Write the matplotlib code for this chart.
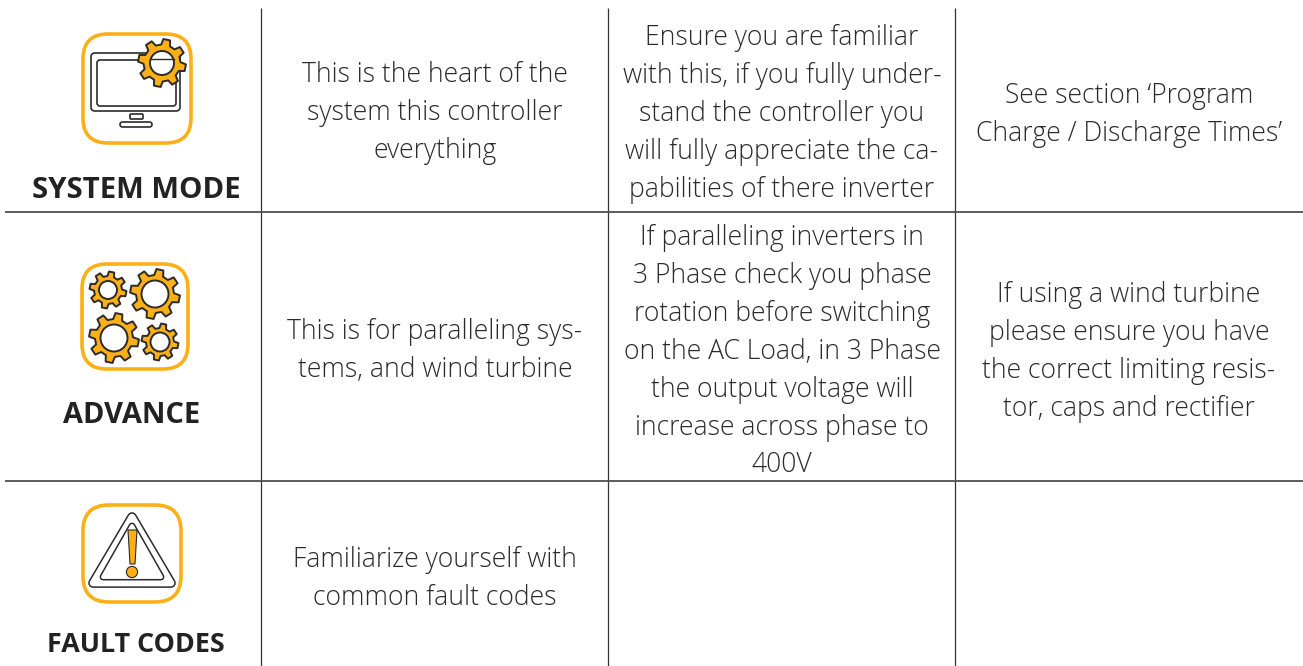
import numpy as np
import matplotlib
matplotlib.use('Agg')
import matplotlib.pyplot as plt
from matplotlib.patches import Circle, FancyBboxPatch, Polygon

plt.rcParams['font.family'] = ['Open Sans', 'DejaVu Sans']

ORANGE = '#fbb017'
DARK = '#2b2b2b'
TEXT = '#2a2a2a'

# table content
labels = ['SYSTEM MODE', 'ADVANCE', 'FAULT CODES']

row1_col2 = ['This is the heart of the', 'system this controller', 'everything']
row1_col3 = ['Ensure you are familiar', 'with this, if you fully under-', 'stand the controller you',
             'will fully appreciate the ca-', 'pabilities of there inverter']
row1_col4 = ['See section \u2018Program', 'Charge / Discharge Times\u2019']
row2_col2 = ['This is for paralleling sys-', 'tems, and wind turbine']
row2_col3 = ['If paralleling inverters in', '3 Phase check you phase', 'rotation before switching',
             'on the AC Load, in 3 Phase', 'the output voltage will', 'increase across phase to', '400V']
row2_col4 = ['If using a wind turbine', 'please ensure you have', 'the correct limiting resis-',
             'tor, caps and rectifier']
row3_col2 = ['Familiarize yourself with', 'common fault codes']

# x centre and first line y of each cell
cells = [
    (435, 71.5, row1_col2),
    (782, 34.5, row1_col3),
    (1129, 92.5, row1_col4),
    (435, 328.5, row2_col2),
    (782, 234.5, row2_col3),
    (1129, 291.5, row2_col4),
    (435, 556.5, row3_col2),
]
LINE_H = 37.9


def gear(ax, cx, cy, r_out, r_in, hole, teeth=8, lw=1.4):
    # gear outline built from alternating tooth radii
    pts = []
    for i in range(teeth):
        a = 2 * np.pi * i / teeth + 0.2
        w = np.pi / teeth
        for da, r in [(-0.62 * w, r_in), (-0.36 * w, r_out), (0.36 * w, r_out), (0.62 * w, r_in)]:
            pts.append((cx + r * np.cos(a + da), cy + r * np.sin(a + da)))
    ax.add_patch(Polygon(pts, closed=True, fc=ORANGE, ec=DARK, lw=lw, joinstyle='round', zorder=4))
    ax.add_patch(Circle((cx, cy), hole, fc='white', ec=DARK, lw=lw, zorder=5))


def rounded(ax, x0, y0, x1, y1, r, **kw):
    ax.add_patch(FancyBboxPatch((x0 + r, y0 + r), x1 - x0 - 2 * r, y1 - y0 - 2 * r,
                                boxstyle=f'round,pad={r},rounding_size={r}', **kw))


def round_triangle(ax, pts, lw):
    # thick dark stroke with a white one on top gives the rounded double outline
    ax.add_patch(Polygon(pts, closed=True, fc='white', ec=DARK, lw=lw, joinstyle='round', zorder=3))
    ax.add_patch(Polygon(pts, closed=True, fc='white', ec='white', lw=lw - 2.2, joinstyle='round', zorder=3))


fig = plt.figure(figsize=(13.03, 6.66), dpi=100)
ax = fig.add_axes([0, 0, 1, 1])
ax.set_xlim(0, 1303)
ax.set_ylim(666, 0)
ax.axis('off')

# grid lines
for x in [261, 608, 955]:
    ax.plot([x, x], [8, 666], color='#333333', lw=0.9, solid_capstyle='butt')
for y in [211.5, 481]:
    ax.plot([5, 1303], [y, y], color='#4f4f4f', lw=1.3, solid_capstyle='butt')

# icon 1: monitor with gear
rounded(ax, 83, 34, 191, 143, 25, fc='white', ec=ORANGE, lw=2.6, zorder=2)
rounded(ax, 91, 53, 180, 111, 4, fc='none', ec=DARK, lw=1.2, zorder=3)
rounded(ax, 97, 60, 176, 106, 3, fc='none', ec=DARK, lw=1.2, zorder=3)
rounded(ax, 130, 114, 143, 119, 1, fc='none', ec=DARK, lw=1.2, zorder=3)
rounded(ax, 120, 122, 152, 127, 2.5, fc='none', ec=DARK, lw=1.2, zorder=3)
gear(ax, 162, 63, 24, 18.5, 12)
ax.plot([150.5, 173.5], [59, 59], color=DARK, lw=1, zorder=6)

# icon 2: four gears
rounded(ax, 82, 264, 188, 369, 25, fc='white', ec=ORANGE, lw=2.6, zorder=2)
gear(ax, 108, 290, 18.5, 14, 9)
gear(ax, 155, 294, 25, 19, 13.5)
gear(ax, 114, 338, 25, 19, 13.5)
gear(ax, 160, 342, 18.5, 14, 9.5)

# icon 3: warning triangle
rounded(ax, 83, 505, 181, 602, 26, fc='white', ec=ORANGE, lw=2.6, zorder=2)
round_triangle(ax, [(132, 517), (171, 583), (93, 583)], 7)
round_triangle(ax, [(132, 526), (161, 577), (103, 577)], 5)
ax.add_patch(Polygon([(128, 530), (137, 530), (135, 564), (130, 564)], closed=True, fc=ORANGE, ec=DARK,
                     lw=0.8, zorder=4))
ax.add_patch(Circle((132, 572), 5.6, fc=ORANGE, ec=DARK, lw=0.8, zorder=4))

for t, x, y, fs in zip(labels, [136.5, 132, 135.5], [190, 415.5, 644.5], [21.2, 20.9, 19.4]):
    ax.text(x, y, t, ha='center', va='center', fontsize=fs, fontweight='bold', color='#222222')

for x, y0, lines in cells:
    for i, s in enumerate(lines):
        ax.text(x, y0 + i * LINE_H, s, ha='center', va='center_baseline', fontsize=19.1,
                fontweight='light', color=TEXT)

fig.savefig('out.png', dpi=100, facecolor='white')
